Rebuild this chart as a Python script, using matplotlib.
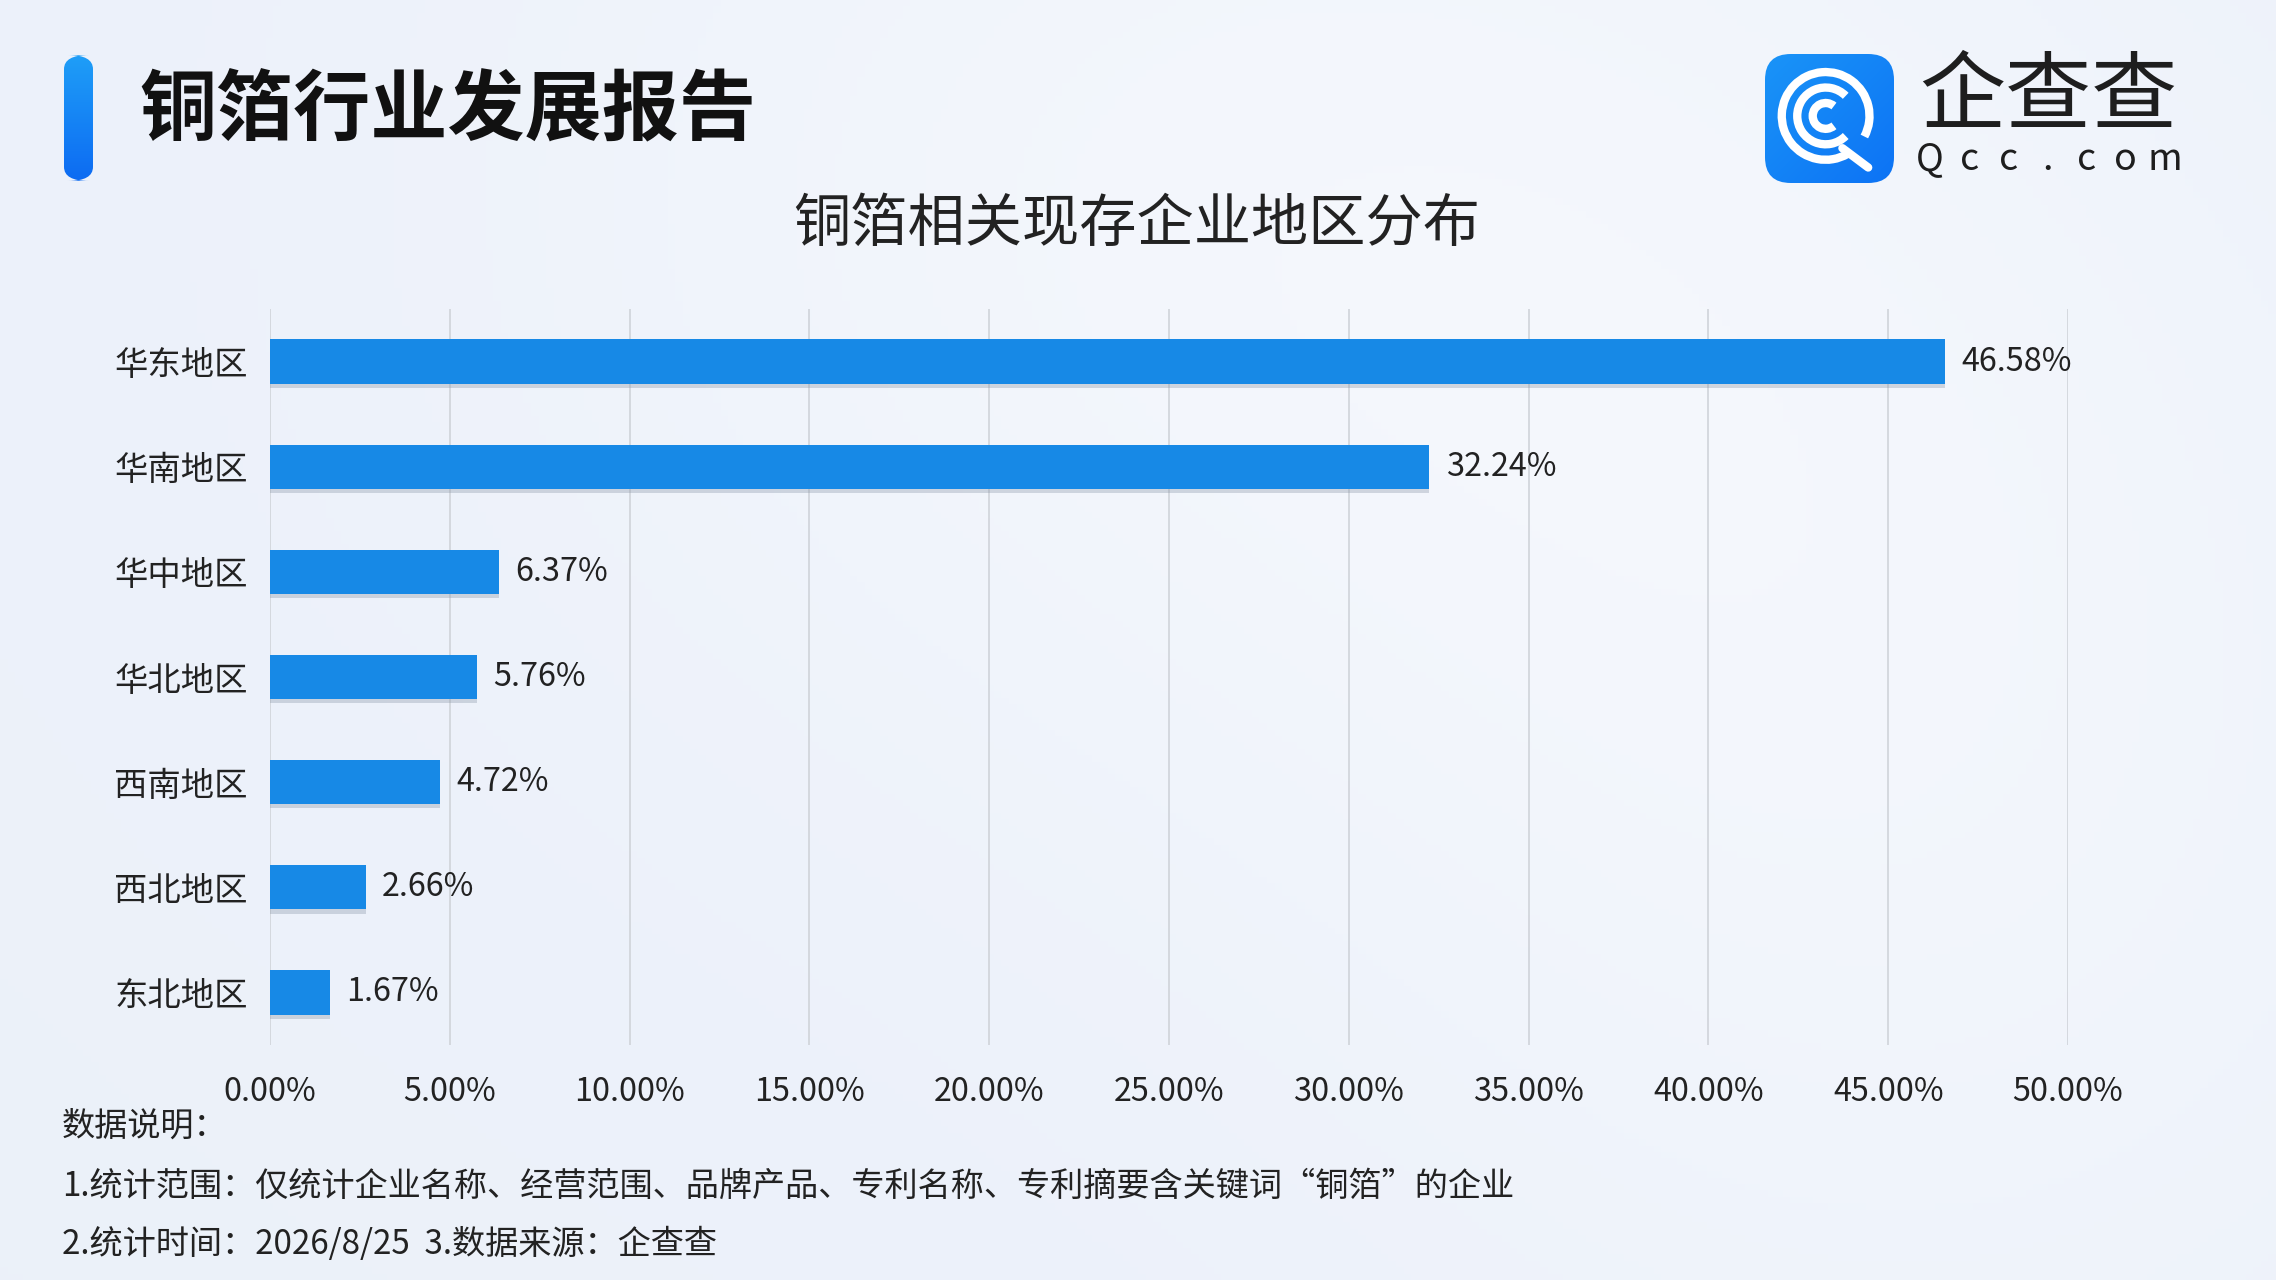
import numpy as np
import matplotlib.pyplot as plt
import matplotlib.patheffects as pe
from matplotlib.patches import FancyBboxPatch, Arc
from matplotlib.lines import Line2D

plt.rcParams['font.family'] = ['Noto Sans CJK SC', 'DejaVu Sans']

# 数据
regions = ['华东地区', '华南地区', '华中地区', '华北地区', '西南地区', '西北地区', '东北地区']
shares = [46.58, 32.24, 6.37, 5.76, 4.72, 2.66, 1.67]
x_ticks = [0, 5, 10, 15, 20, 25, 30, 35, 40, 45, 50]

header = '铜箔行业发展报告'
chart_title = '铜箔相关现存企业地区分布'
notes = ['数据说明：',
         '1.统计范围：仅统计企业名称、经营范围、品牌产品、专利名称、专利摘要含关键词“铜箔”的企业',
         '2.统计时间：2026/8/25  3.数据来源：企查查']

W, H = 2276, 1280
BAR_COLOR = '#1789e6'


def px(x, y):
    """像素坐标 -> figure 坐标"""
    return x / W, 1 - y / H


fig = plt.figure(figsize=(W / 100, H / 100), dpi=100)

# 背景渐变
bg = fig.add_axes([0, 0, 1, 1], zorder=-10)
gx = np.linspace(0, 1, 300)
gy = np.linspace(0, 1, 200)
GX, GY = np.meshgrid(gx, gy)
base = np.array([0.925, 0.945, 0.980])
white = np.array([0.975, 0.982, 0.995])
w = np.clip(0.55 * np.exp(-((GX - 0.55) ** 2 / 0.12 + (GY - 0.15) ** 2 / 0.25))
            + 0.45 * np.exp(-((GX - 0.85) ** 2 / 0.08 + (GY - 0.6) ** 2 / 0.3)), 0, 1)
img = base[None, None, :] * (1 - w[..., None]) + white[None, None, :] * w[..., None]
bg.imshow(img, extent=[0, 1, 0, 1], aspect='auto', origin='upper')
bg.set_xlim(0, 1)
bg.set_ylim(0, 1)
bg.axis('off')

# 左上角蓝色竖条
x0, y0 = px(64, 181)
x1, y1 = px(93, 55)
accent = FancyBboxPatch((x0, y0), x1 - x0, y1 - y0,
                        boxstyle='round,pad=0,rounding_size=0.011',
                        transform=fig.transFigure, facecolor='none', edgecolor='none')
fig.add_artist(accent)
grad = np.linspace(0, 1, 100)[:, None]
cols = np.array([0.12, 0.62, 0.97])[None, None, :] * (1 - grad[..., None]) + \
       np.array([0.05, 0.42, 0.95])[None, None, :] * grad[..., None]
acc_img = bg.imshow(cols, extent=[x0, x1, y0, y1], aspect='auto', origin='upper', zorder=2)
acc_img.set_clip_path(accent)

# 标题
fig.text(*px(139, 112), header, fontsize=55.5, fontweight='bold', color='#111111',
         ha='left', va='center')
fig.text(*px(1137, 225), chart_title, fontsize=41.2, color='#222222',
         ha='center', va='center')

# 企查查 logo
lx0, ly0 = px(1765, 183)
lx1, ly1 = px(1894, 54)
logo = fig.add_axes([lx0, ly0, lx1 - lx0, ly1 - ly0])
logo.set_xlim(0, 1)
logo.set_ylim(0, 1)
logo.axis('off')
box = FancyBboxPatch((0, 0), 1, 1, boxstyle='round,pad=0,rounding_size=0.2',
                     facecolor='none', edgecolor='none', transform=logo.transData)
logo.add_patch(box)
lg = np.linspace(0, 1, 100)
LG = (lg[None, :] + lg[:, None]) / 2
lcols = np.array([0.10, 0.58, 0.97])[None, None, :] * (1 - LG[..., None]) + \
        np.array([0.05, 0.45, 0.96])[None, None, :] * LG[..., None]
limg = logo.imshow(lcols, extent=[0, 1, 0, 1], origin='upper', aspect='auto')
limg.set_clip_path(box)
cx, cy = 0.47, 0.52
logo.add_patch(Arc((cx, cy), 0.68, 0.68, theta1=-28, theta2=300, color='white', lw=6))
logo.add_patch(Arc((cx, cy), 0.44, 0.44, theta1=45, theta2=315, color='white', lw=6))
logo.add_patch(Arc((cx, cy), 0.20, 0.20, theta1=50, theta2=310, color='white', lw=6))
logo.add_line(Line2D([0.60, 0.80], [0.27, 0.12], color='white', lw=6, solid_capstyle='round'))

fig.text(*px(2048, 99), '企查查', fontsize=62, color='#1e1e1e', ha='center', va='center')
for ch, xx in zip('Qcc.com', np.linspace(1930, 2165, 7)):
    fig.text(*px(xx, 160), ch, fontsize=27, color='#1e1e1e', ha='center', va='center',
             fontweight='medium')

# 主图
ax_l, ax_b = px(270, 1045)
ax_r, ax_t = px(2068, 309)
ax = fig.add_axes([ax_l, ax_b, ax_r - ax_l, ax_t - ax_b])
ax.set_facecolor('none')

y_pos = np.arange(len(regions))[::-1]
bars = ax.barh(y_pos, shares, height=0.42, color=BAR_COLOR, zorder=3)
for b in bars:
    b.set_path_effects([pe.SimplePatchShadow(offset=(0, -3), shadow_rgbFace='#8a97a8', alpha=0.35),
                        pe.Normal()])
for yy, v in zip(y_pos, shares):
    ax.text(v + 0.45, yy, f'{v:.2f}%', va='center', ha='left', fontsize=23.3, color='#222222')

ax.set_xlim(0, 50)
ax.set_ylim(-0.5, len(regions) - 0.5)
ax.set_xticks(x_ticks)
ax.set_xticklabels([f'{t:.2f}%' for t in x_ticks])
ax.set_yticks(y_pos)
ax.set_yticklabels(regions)
ax.tick_params(axis='x', length=0, pad=22, labelsize=23.3, labelcolor='#222222')
ax.tick_params(axis='y', length=0, pad=16, labelsize=24, labelcolor='#222222')
ax.grid(axis='x', color='#d2d6dc', lw=1.3, zorder=0)
for s in ax.spines.values():
    s.set_visible(False)

# 数据说明
for txt, yy in zip(notes, [1126, 1186, 1245]):
    fig.text(*px(62, yy), txt, fontsize=23.9, color='#222222', ha='left', va='center')

fig.savefig('out.png', dpi=100)
